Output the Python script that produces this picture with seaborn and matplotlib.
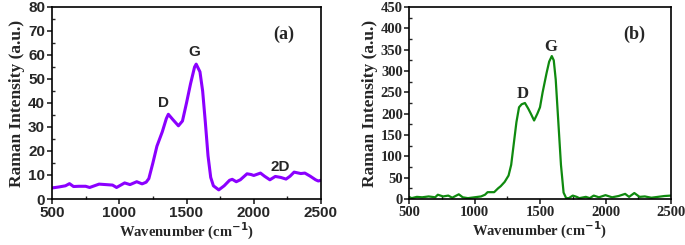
"""
Raman spectra of two samples, panels (a) and (b)
"""

import numpy as np
import pandas as pd
import matplotlib
matplotlib.use("Agg")
import matplotlib.pyplot as plt
from matplotlib.ticker import MultipleLocator
import seaborn as sns

# Spectrum (a)
wn_a = [500, 550, 600, 630, 660, 700, 750, 780, 850, 900, 950, 980, 1040, 1080,
        1130, 1170, 1200, 1220, 1250, 1280, 1320, 1350, 1365, 1400, 1440, 1470,
        1500, 1530, 1560, 1572, 1600, 1620, 1640, 1660, 1680, 1700, 1740, 1780,
        1820, 1840, 1870, 1900, 1950, 1980, 2000, 2050, 2080, 2120, 2160, 2200,
        2240, 2270, 2300, 2350, 2380, 2420, 2460, 2480, 2500]
int_a = [4.6, 5.0, 5.5, 6.4, 5.2, 5.3, 5.3, 4.8, 6.2, 6.0, 5.8, 4.8, 6.7, 6.0,
         7.2, 6.3, 7.0, 8.5, 15.0, 22.0, 28.0, 33.5, 35.3, 33.0, 30.5, 32.5,
         40.0, 48.0, 55.0, 56.2, 53.0, 45.0, 32.0, 18.0, 9.0, 5.5, 3.8, 5.5,
         7.8, 8.2, 7.2, 8.0, 10.5, 10.2, 9.8, 10.8, 9.5, 8.0, 9.4, 9.0,
         8.3, 9.5, 11.2, 10.6, 10.8, 9.5, 8.0, 7.5, 7.8]

# Spectrum (b)
wn_b = [500, 520, 560, 600, 650, 700, 720, 760, 800, 830, 880, 910, 950, 1000,
        1050, 1080, 1100, 1150, 1180, 1200, 1230, 1260, 1280, 1300, 1320, 1340,
        1360, 1385, 1410, 1430, 1455, 1480, 1500, 1520, 1550, 1570, 1590, 1605,
        1620, 1640, 1660, 1680, 1700, 1720, 1750, 1780, 1800, 1850, 1880, 1910,
        1950, 2000, 2050, 2100, 2150, 2180, 2220, 2260, 2300, 2350, 2400, 2450, 2500]
int_b = [5, 2, 5, 4, 6, 4, 10, 6, 8, 3, 11, 4, 2, 4,
         6, 10, 16, 16, 25, 30, 40, 55, 80, 130, 180, 215,
         222, 225, 212, 200, 184, 200, 215, 250, 295, 322, 335, 325,
         280, 180, 80, 15, 2, 2, 8, 5, 2, 5, 2, 8,
         4, 9, 4, 7, 12, 5, 14, 5, 6, 3, 5, 7, 8]

df_a = pd.DataFrame({"wn": wn_a, "intensity": int_a})
df_b = pd.DataFrame({"wn": wn_b, "intensity": int_b})

sns.set_style("ticks")
SERIF = ["Liberation Serif", "DejaVu Serif"]
SANS = ["Liberation Sans", "DejaVu Sans"]

fig = plt.figure(figsize=(6.85, 2.45), dpi=100)
ax_a = fig.add_axes([52 / 685, 46 / 245, 269 / 685, 192 / 245])
ax_b = fig.add_axes([409 / 685, 46 / 245, 262 / 685, 192 / 245])

sns.lineplot(data=df_a, x="wn", y="intensity", ax=ax_a, color="#8b00ff", linewidth=2.2)
sns.lineplot(data=df_b, x="wn", y="intensity", ax=ax_b, color="#0f8a0f", linewidth=1.6)


def style_axis(ax, ymax, ystep, tick_family, tick_size, panel):
    ax.set_xlim(500, 2500)
    ax.set_ylim(0, ymax)
    ax.xaxis.set_major_locator(MultipleLocator(500))
    ax.xaxis.set_minor_locator(MultipleLocator(250))
    ax.yaxis.set_major_locator(MultipleLocator(ystep))
    ax.yaxis.set_minor_locator(MultipleLocator(ystep / 2))
    ax.tick_params(which="major", direction="out", length=3.5, width=1.2, pad=1.5)
    ax.tick_params(which="minor", direction="in", length=2, width=1)
    for spine in ax.spines.values():
        spine.set_visible(True)
        spine.set_linewidth(1.2)
        spine.set_color("black")
    for lbl in ax.get_xticklabels() + ax.get_yticklabels():
        lbl.set_family(tick_family)
        lbl.set_fontweight("bold")
        lbl.set_fontsize(tick_size)
    ax.set_xlabel("Wavenumber (cm$^{\\mathbf{-1}}$)", family=SERIF, fontweight="bold",
                  fontsize=10.5, labelpad=1)
    ax.set_ylabel("Raman Intensity (a.u.)", family=SERIF, fontweight="bold",
                  fontsize=12.5, labelpad=2)
    ax.text(0.86, 0.86, panel, transform=ax.transAxes, family=SERIF,
            fontweight="bold", fontsize=13, ha="center", va="center")


style_axis(ax_a, 80, 10, SANS, 11, "(a)")
style_axis(ax_b, 450, 50, SERIF, 10.5, "(b)")
ax_b.tick_params(axis="y", which="major", pad=1)

ax_a.text(1330, 38.5, "D", family=SANS, fontweight="bold", fontsize=11, ha="center")
ax_a.text(1555, 59.5, "G", family=SANS, fontweight="bold", fontsize=11, ha="center")
ax_a.text(2200, 11.5, "2D", family=SANS, fontweight="bold", fontsize=11, ha="center")
ax_b.text(1365, 236, "D", family=SERIF, fontweight="bold", fontsize=12, ha="center")
ax_b.text(1585, 347, "G", family=SERIF, fontweight="bold", fontsize=12, ha="center")

fig.savefig("out.png", dpi=100)
